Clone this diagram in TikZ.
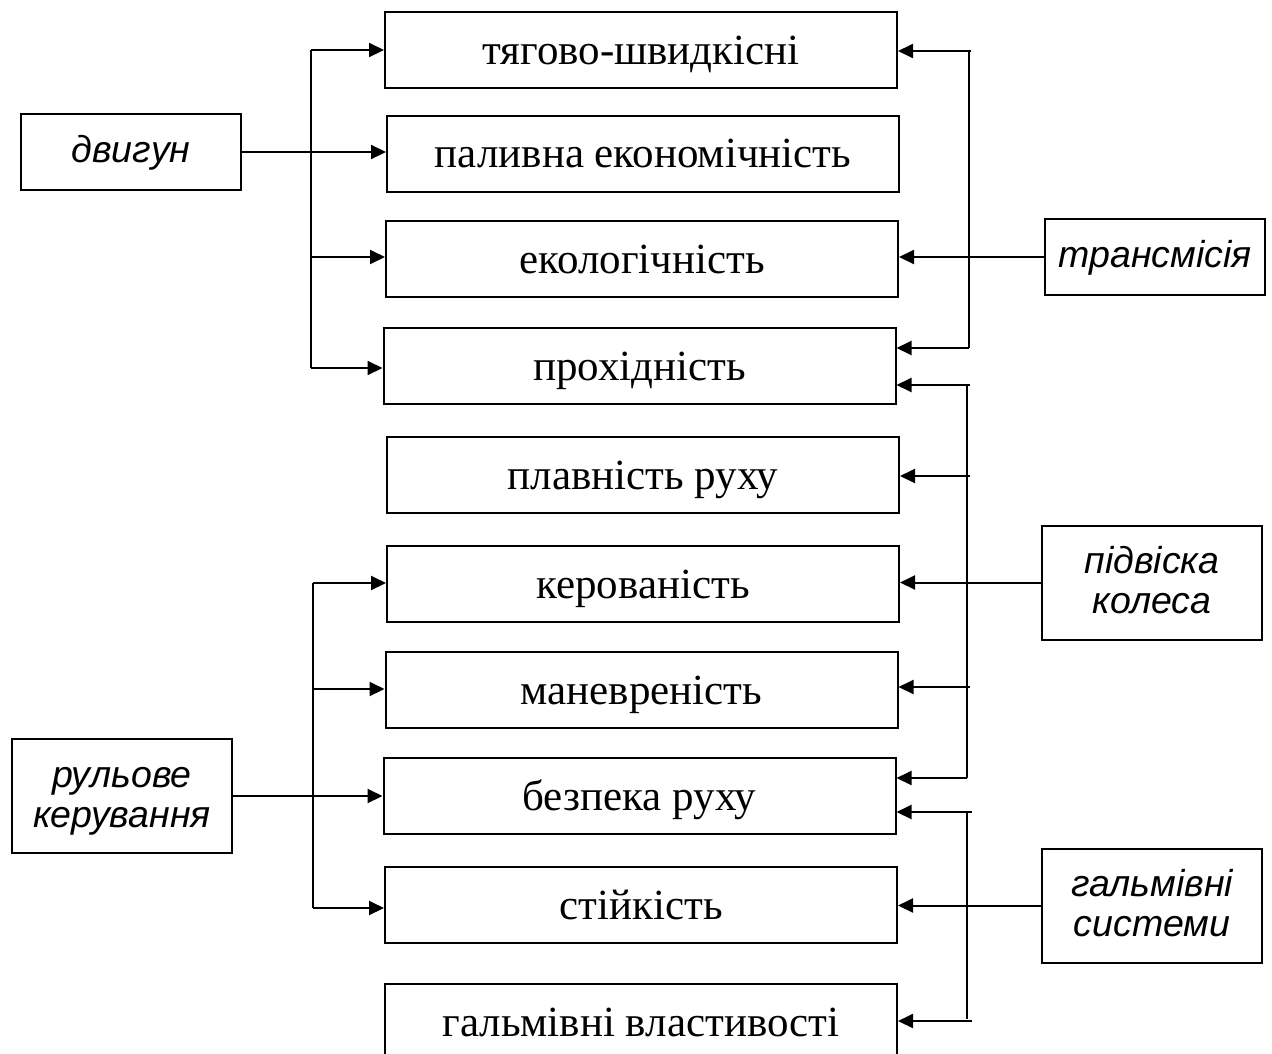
\documentclass[tikz,border=0pt]{standalone}
\usepackage{fontspec}
\setmainfont{Liberation Serif}
\newfontfamily\sidefont{Liberation Sans}
\usetikzlibrary{arrows.meta}
\newcommand{\twolines}[2]{\begin{tabular}[t]{@{}c@{}}#1\\#2\end{tabular}}
\begin{document}
\begin{tikzpicture}[x=1pt,y=-1pt,
  line width=2pt,
  mainbox/.style={draw, line width=2pt, minimum width=512pt, minimum height=76pt, inner sep=0pt,
    font=\fontsize{43}{49}\selectfont, text height=33pt, text depth=5pt},
  sidebox/.style={draw, line width=2pt, minimum width=220pt, minimum height=76pt, inner sep=0pt,
    font=\sidefont\itshape\fontsize{37.5}{40}\selectfont, text height=26pt, text depth=6pt},
  sidebox2/.style={sidebox, minimum height=114pt, text height=28pt, text depth=46pt},
  arr/.style={-{Triangle[length=15pt,width=14pt]}, line width=2pt},
  bus/.style={line width=2pt}]
\useasboundingbox (0,0) rectangle (1272,1053);
% central boxes
\node[mainbox] (c1) at (641,50) {тягово-швидкісні};
\node[mainbox] (c2) at (643,153.5) {паливна економічність};
\node[mainbox] (c3) at (642,259) {екологічність};
\node[mainbox] (c4) at (639.5,366) {прохідність};
\node[mainbox] (c5) at (643,475) {плавність руху};
\node[mainbox] (c6) at (643,584) {керованість};
\node[mainbox] (c7) at (641.5,690) {маневреність};
\node[mainbox] (c8) at (639.5,796) {безпека руху};
\node[mainbox] (c9) at (641,905) {стійкість};
\node[mainbox] (c10) at (641,1022) {гальмівні властивості};
% side boxes
\node[sidebox] (dv) at (131,152) {двигун};
\node[sidebox2] (ru) at (122,796) {\twolines{рульове}{керування}};
\node[sidebox] (tr) at (1155,257) {трансмісія};
\node[sidebox2] (pk) at (1152,582.5) {\twolines{підвіска}{колеса}};
\node[sidebox2] (gs) at (1152,905.5) {\twolines{гальмівні}{системи}};
% left bus: двигун
\coordinate (l1a) at (311,50);
\coordinate (l1c) at (311,257);
\coordinate (l1d) at (311,368);
\draw[bus] (l1a) -- (l1d);
\draw[arr] (l1a) -- (l1a -| c1.west);
\draw[arr] (dv.east) -- (dv.east -| c2.west);
\draw[arr] (l1c) -- (l1c -| c3.west);
\draw[arr] (l1d) -- (l1d -| c4.west);
% left bus: рульове керування
\coordinate (l2a) at (313,583);
\coordinate (l2b) at (313,689);
\coordinate (l2d) at (313,908);
\draw[bus] (l2a) -- (l2d);
\draw[arr] (l2a) -- (l2a -| c6.west);
\draw[arr] (l2b) -- (l2b -| c7.west);
\draw[arr] (ru.east) -- (ru.east -| c8.west);
\draw[arr] (l2d) -- (l2d -| c9.west);
% right bus: трансмісія
\coordinate (r1a) at (971,51);
\coordinate (r1d) at (969,348);
\draw[bus] (969,51) -- (r1d);
\draw[arr] (r1a) -- (r1a -| c1.east);
\draw[arr] (tr.west) -- (tr.west -| c3.east);
\draw[arr] (r1d) -- (r1d -| c4.east);
% right bus: підвіска колеса
\coordinate (r2a) at (970,385);
\coordinate (r2b) at (970,476);
\coordinate (r2d) at (970,687);
\coordinate (r2e) at (967,778);
\draw[bus] (967,385) -- (r2e);
\draw[arr] (r2a) -- (r2a -| c4.east);
\draw[arr] (r2b) -- (r2b -| c5.east);
\draw[arr] (pk.west) -- (pk.west -| c6.east);
\draw[arr] (r2d) -- (r2d -| c7.east);
\draw[arr] (r2e) -- (r2e -| c8.east);
% right bus: гальмівні системи
\coordinate (r3a) at (972,812);
\coordinate (r3c) at (972,1021);
\draw[bus] (967,812) -- (967,1019);
\draw[arr] (r3a) -- (r3a -| c8.east);
\draw[arr] (gs.west) -- (gs.west -| c9.east);
\draw[arr] (r3c) -- (r3c -| c10.east);
\end{tikzpicture}
\end{document}
